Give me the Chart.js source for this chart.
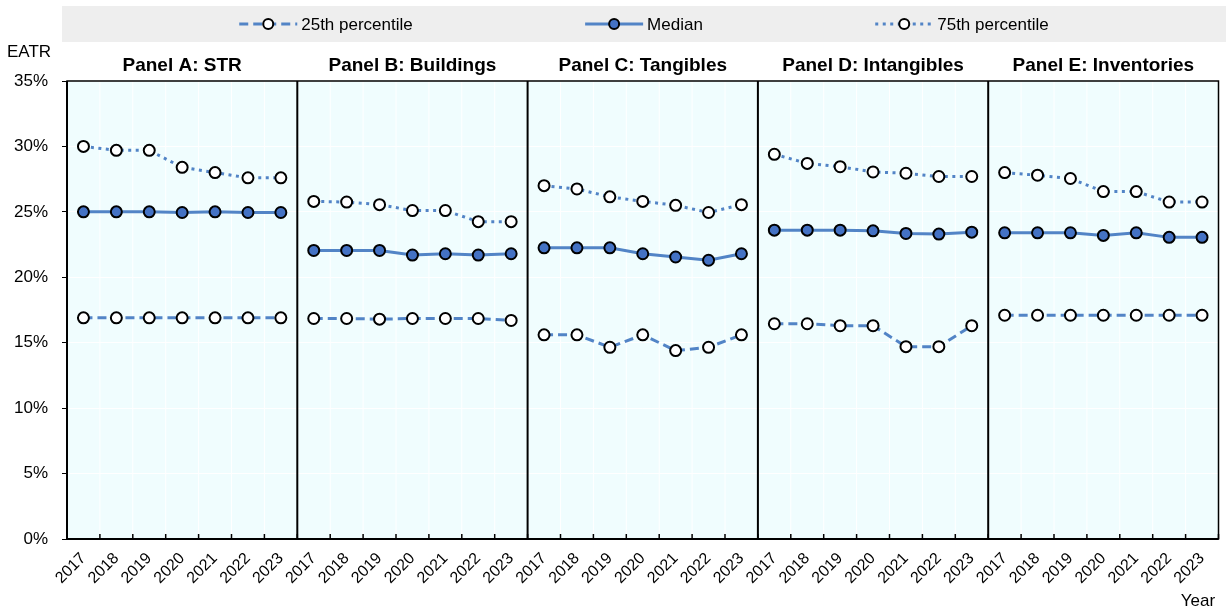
<!DOCTYPE html>
<html>
<head>
<meta charset="utf-8">
<script src="https://cdn.jsdelivr.net/npm/chart.js@4.4.1/dist/chart.umd.min.js"></script>
<style>
  html, body { margin:0; padding:0; background:#fff; }
  #wrap { position:relative; width:1226px; height:612px; }
</style>
</head>
<body>
<div id="wrap"><canvas id="grafico" width="1226" height="612"></canvas></div>
<script>
// ================== Dados ==================
const anos = ['2017','2018','2019','2020','2021','2022','2023'];
const paineis = ['Panel A: STR','Panel B: Buildings','Panel C: Tangibles','Panel D: Intangibles','Panel E: Inventories'];
const yTicks = [0,5,10,15,20,25,30,35];

// 5 painéis x 7 anos (A, B, C, D, E)
const p25 = [
  16.9,16.9,16.9,16.9,16.9,16.9,16.9,
  16.85,16.85,16.8,16.85,16.85,16.85,16.7,
  15.6,15.6,14.65,15.6,14.4,14.65,15.6,
  16.45,16.45,16.3,16.3,14.7,14.7,16.3,
  17.1,17.1,17.1,17.1,17.1,17.1,17.1
];
const mediana = [
  25.0,25.0,25.0,24.95,25.0,24.95,24.95,
  22.05,22.05,22.05,21.7,21.8,21.7,21.8,
  22.25,22.25,22.25,21.8,21.55,21.3,21.8,
  23.6,23.6,23.6,23.55,23.35,23.3,23.45,
  23.4,23.4,23.4,23.2,23.4,23.05,23.05
];
const p75 = [
  30.0,29.7,29.7,28.4,28.0,27.6,27.6,
  25.8,25.75,25.55,25.1,25.1,24.25,24.25,
  27.0,26.75,26.15,25.8,25.5,24.95,25.55,
  29.4,28.7,28.45,28.05,27.95,27.7,27.7,
  28.0,27.8,27.55,26.55,26.55,25.75,25.75
];

const labels = paineis.flatMap(() => anos);
const nAnos = anos.length;

const AZUL = '#5284C6';
const FONTE = "'Liberation Sans', Arial, sans-serif";
Chart.defaults.font.family = FONTE;
Chart.defaults.color = '#000';

// quebra a linha entre painéis
const quebra = ctx => (ctx.p0DataIndex % nAnos === nAnos - 1) ? 'rgba(0,0,0,0)' : undefined;

const datasets = [
  { label:'25th percentile', data:p25, borderColor:AZUL, borderWidth:3, borderDash:[9,5],
    pointBackgroundColor:'#fff', pointBorderColor:'#000', pointBorderWidth:2, pointRadius:5.5,
    segment:{ borderColor:quebra } },
  { label:'Median', data:mediana, borderColor:AZUL, borderWidth:3,
    pointBackgroundColor:'#4472C4', pointBorderColor:'#000', pointBorderWidth:2, pointRadius:5.5,
    segment:{ borderColor:quebra } },
  { label:'75th percentile', data:p75, borderColor:AZUL, borderWidth:3, borderDash:[3,4.5],
    pointBackgroundColor:'#fff', pointBorderColor:'#000', pointBorderWidth:2, pointRadius:5.5,
    segment:{ borderColor:quebra } }
];

// ================== Plugin dos painéis ==================
function limites(chart) {
  const x = chart.scales.x;
  const passo = x.getPixelForValue(1) - x.getPixelForValue(0);
  const arr = [];
  for (let i = 0; i <= labels.length; i++) arr.push(x.getPixelForValue(0) - passo/2 + i*passo);
  return arr;
}

function itemLegenda(ctx, cx, cy, ds) {
  ctx.font = '17px ' + FONTE;
  const tw = ctx.measureText(ds.label).width;
  const lw = 58, gap = 4;
  const x0 = cx - (lw + gap + tw)/2;
  ctx.save();
  ctx.strokeStyle = ds.borderColor; ctx.lineWidth = 3;
  ctx.setLineDash(ds.borderDash || []);
  ctx.beginPath(); ctx.moveTo(x0, cy); ctx.lineTo(x0 + lw, cy); ctx.stroke();
  ctx.setLineDash([]);
  ctx.beginPath(); ctx.arc(x0 + lw/2, cy, 5, 0, Math.PI*2);
  ctx.fillStyle = ds.pointBackgroundColor; ctx.fill();
  ctx.lineWidth = 2; ctx.strokeStyle = '#000'; ctx.stroke();
  ctx.restore();
  ctx.fillStyle = '#000'; ctx.textAlign = 'left'; ctx.textBaseline = 'middle';
  ctx.fillText(ds.label, x0 + lw + gap, cy + 1);
}

const painelPlugin = {
  id:'painel',
  beforeDraw(chart) {
    const { ctx, chartArea:a } = chart;
    ctx.save();
    ctx.fillStyle = '#F0FDFE';
    ctx.fillRect(a.left, a.top, a.width, a.height);
    ctx.strokeStyle = '#FFFFFF'; ctx.lineWidth = 1;
    limites(chart).forEach(px => {
      ctx.beginPath(); ctx.moveTo(px, a.top); ctx.lineTo(px, a.bottom); ctx.stroke();
    });
    ctx.restore();
  },
  beforeDatasetsDraw(chart) {
    const { ctx, chartArea:a } = chart;
    const lim = limites(chart);
    ctx.save();
    ctx.strokeStyle = '#000'; ctx.lineWidth = 2;
    for (let p = 1; p < paineis.length; p++) {
      const px = lim[p*nAnos];
      ctx.beginPath(); ctx.moveTo(px, a.top); ctx.lineTo(px, a.bottom); ctx.stroke();
    }
    // marcas do eixo x (para dentro)
    ctx.lineWidth = 1.5;
    lim.forEach(px => {
      ctx.beginPath(); ctx.moveTo(px, a.bottom); ctx.lineTo(px, a.bottom - 5); ctx.stroke();
    });
    ctx.restore();
  },
  afterDraw(chart) {
    const { ctx, chartArea:a } = chart;
    const lim = limites(chart);
    ctx.save();
    // moldura
    ctx.strokeStyle = '#000'; ctx.lineWidth = 1.5;
    ctx.strokeRect(a.left, a.top, a.width, a.height);
    ctx.lineWidth = 2;
    ctx.beginPath(); ctx.moveTo(a.left, a.top); ctx.lineTo(a.left, a.bottom); ctx.lineTo(a.right, a.bottom); ctx.stroke();

    // títulos dos painéis
    ctx.fillStyle = '#000';
    ctx.font = 'bold 19px ' + FONTE;
    ctx.textAlign = 'center'; ctx.textBaseline = 'middle';
    paineis.forEach((t, p) => {
      const cx = (lim[p*nAnos] + lim[(p+1)*nAnos]) / 2;
      ctx.fillText(t, cx, a.top - 15);
    });

    // EATR e Year
    ctx.font = '17px ' + FONTE;
    ctx.fillText('EATR', 29, 52);
    ctx.fillText('Year', 1198, 601);

    // legenda
    ctx.fillStyle = '#EEEEEE';
    ctx.fillRect(62, 6, chart.width - 62, 36);
    const centro = (62 + chart.width) / 2;
    chart.data.datasets.forEach((ds, i) => {
      itemLegenda(ctx, centro + (i - 1) * 318, 24, ds);
    });
    ctx.restore();
  }
};

// ================== Gráfico ==================
new Chart(document.getElementById('grafico').getContext('2d'), {
  type:'line',
  data:{ labels, datasets },
  options:{
    responsive:false,
    animation:false,
    layout:{ padding:{ top:81, right:4, left:0, bottom:0 } },
    plugins:{ legend:{ display:false }, tooltip:{ enabled:false } },
    scales:{
      x:{
        offset:true,
        grid:{ display:false },
        border:{ display:false },
        ticks:{ autoSkip:false, maxRotation:45, minRotation:45, font:{ size:16 }, color:'#000', padding:2 },
        afterFit:s => { s.height = 73; }
      },
      y:{
        min:0, max:35,
        afterBuildTicks:s => { s.ticks = yTicks.map(v => ({ value:v })); },
        grid:{ color:'#FFFFFF', lineWidth:1, drawTicks:true, tickLength:5, tickColor:'#000' },
        border:{ display:false },
        ticks:{ callback:v => v + '%', font:{ size:17 }, color:'#000', padding:14 },
        afterFit:s => { s.width = 67; }
      }
    }
  },
  plugins:[painelPlugin]
});
</script>
</body>
</html>
